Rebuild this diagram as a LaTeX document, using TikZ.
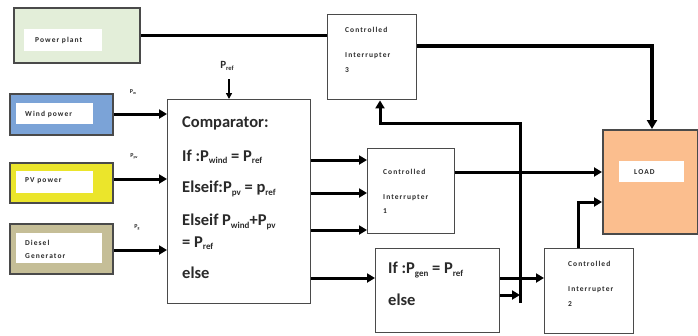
\documentclass[tikz,border=0pt]{standalone}
\usepackage{fontspec}
\setmainfont{Carlito}
\newfontfamily\spacedfont[LetterSpace=14]{Carlito}
\usetikzlibrary{arrows.meta,calc}
\definecolor{ppgreen}{HTML}{E3EED9}
\definecolor{windblue}{HTML}{7BA3D7}
\definecolor{pvyellow}{HTML}{EBE52B}
\definecolor{dieselkh}{HTML}{C5BE97}
\definecolor{loadorange}{HTML}{FBBE8E}
\definecolor{edgegray}{HTML}{4A4A4A}
\definecolor{txtgray}{HTML}{2A2A2A}
\newcommand{\lowsub}[1]{\raisebox{-2.5pt}{\fontsize{9}{9}\selectfont #1}}
\newcommand{\tinysub}[1]{\raisebox{-1pt}{\fontsize{4}{4}\selectfont #1}}
\tikzset{
  srcbox/.style={draw=edgegray, line width=2pt, inner sep=0pt, anchor=north west},
  wbox/.style={draw=edgegray, line width=1.4pt, fill=white, inner sep=0pt, anchor=north west},
  inbox/.style={fill=white, draw=none, inner sep=0pt, anchor=north west},
  smalltxt/.style={font=\spacedfont\fontsize{7.5}{8}\selectfont\bfseries, text=txtgray, anchor=west, inner sep=0pt},
  bigtxt/.style={font=\fontsize{16.5}{17}\selectfont\bfseries, text=txtgray, anchor=west, inner sep=0pt},
  lbl/.style={font=\fontsize{6}{6}\selectfont\bfseries, text=txtgray, inner sep=0pt},
  conn/.style={line width=3pt, -{Triangle[length=8pt,width=9pt]}},
  plain/.style={line width=3pt},
}
\newcommand{\bx}[6]{\node[#1, minimum width=#4-#2, minimum height=#5-#3] (#6) at (#2,#3) {};}
\begin{document}
\begin{tikzpicture}[x=1pt,y=-1pt]
\useasboundingbox (0,0) rectangle (698,335);
% source boxes
\bx{srcbox,fill=ppgreen}{13}{7}{139}{62}{pp}
\bx{inbox}{24}{29}{102}{51}{ppin}
\node[smalltxt] (pptxt) at (35,40) {Power plant};

\bx{srcbox,fill=windblue}{9}{93}{112}{134}{wind}
\bx{inbox}{16}{103}{93}{124}{windin}
\node[smalltxt] (windtxt) at (25,114) {Wind power};

\bx{srcbox,fill=pvyellow}{9}{162}{112}{202}{pv}
\bx{inbox}{16}{171}{93}{193}{pvin}
\node[smalltxt] (pvtxt) at (25,181) {PV power};

\bx{srcbox,fill=dieselkh}{9}{223}{112}{273}{diesel}
\bx{inbox}{16}{233}{102}{263}{dieselin}
\node[smalltxt] (dtxt1) at (25,243) {Diesel};
\node[smalltxt] (dtxt2) at (25,256) {Generator};

\bx{srcbox,fill=loadorange}{602}{129}{697}{233}{load}
\bx{inbox}{619}{161}{684}{182}{loadin}
\node[smalltxt] (loadtxt) at (634,172) {LOAD};

% white boxes
\bx{wbox}{327}{14}{416}{99}{ci3}
\node[smalltxt] (ci3a) at (345,30) {Controlled};
\node[smalltxt] (ci3b) at (345,56) {Interrupter};
\node[smalltxt] (ci3c) at (345,70) {3};

\bx{wbox}{167}{99}{310}{303}{comp}
\node[bigtxt] (c1) at (182,123) {Comparator:};
\node[bigtxt] (c2) at (182,157) {If :P\lowsub{wind} = P\lowsub{ref}};
\node[bigtxt] (c3) at (182,189) {Elseif:P\lowsub{pv} = p\lowsub{ref}};
\node[bigtxt] (c4) at (182,222) {Elseif P\lowsub{wind}+P\lowsub{pv}};
\node[bigtxt] (c5) at (182,243) {= P\lowsub{ref}};
\node[bigtxt] (c6) at (182,273) {else};

\bx{wbox}{367}{148}{454}{233}{ci1}
\node[smalltxt] (ci1a) at (383,172) {Controlled};
\node[smalltxt] (ci1b) at (383,198) {Interrupter};
\node[smalltxt] (ci1c) at (383,211) {1};

\bx{wbox}{375}{248}{499}{332}{ifb}
\node[bigtxt] (i1) at (388,270) {If :P\lowsub{gen} = P\lowsub{ref}};
\node[bigtxt] (i2) at (388,300) {else};

\bx{wbox}{544}{248}{633}{333}{ci2}
\node[smalltxt] (ci2a) at (568,264) {Controlled};
\node[smalltxt] (ci2b) at (568,290) {Interrupter};
\node[smalltxt] (ci2c) at (568,304) {2};

% labels
\node[lbl] (pw) at (133,92) {P\tinysub{w}};
\node[lbl] (ppv) at (134,156) {P\tinysub{pv}};
\node[lbl] (pg) at (137,227) {P\tinysub{g}};
\node[font=\fontsize{11}{11}\selectfont\bfseries, text=txtgray, inner sep=0pt] (pref) at (227,66) {P\raisebox{-1.5pt}{\fontsize{6.5}{7}\selectfont ref}};

% coordinates
\coordinate (ci3in) at (pp.east |- 0,35);
\coordinate (ci3out) at (ci3.east |- 0,46);
\coordinate (loadtop) at (652,46);
\coordinate (bus) at (520,123);
\coordinate (busbot) at (520,303);
\coordinate (ci3bot) at (380,123);
\coordinate (ci2up) at (578,202);

% connectors
\draw[plain] (ci3in) -- (ci3.west |- ci3in);
\draw[line width=4pt, -{Triangle[length=9pt,width=10pt]}] (ci3out) -- (loadtop) -- (loadtop |- load.north);
\draw[line width=1.6pt, -{Triangle[length=6pt,width=6pt]}] (229,79) -- (229,99);
\draw[conn] (wind.east |- 0,114) -- (comp.west |- 0,114);
\draw[conn] (pv.east |- 0,179) -- (comp.west |- 0,179);
\draw[conn] (diesel.east |- 0,250) -- (comp.west |- 0,250);
\draw[conn] (comp.east |- 0,160) -- (ci1.west |- 0,160);
\draw[conn] (comp.east |- 0,193) -- (ci1.west |- 0,193);
\draw[conn] (comp.east |- 0,230) -- (ci1.west |- 0,230);
\draw[conn] (comp.east |- 0,278) -- (ifb.west |- 0,278);
\draw[conn] (ifb.east |- 0,278) -- (ci2.west |- 0,278);
\draw[conn] (ifb.east |- 0,295) -- (520,295);
\draw[conn] (busbot) -- (bus) -- (ci3bot) -- (ci3bot |- ci3.south);
\draw[conn] (ci1.east |- 0,172) -- (load.west |- 0,172);
\draw[conn] (ci2.north -| ci2up) -- (ci2up) -- (load.west |- ci2up);
\end{tikzpicture}
\end{document}
